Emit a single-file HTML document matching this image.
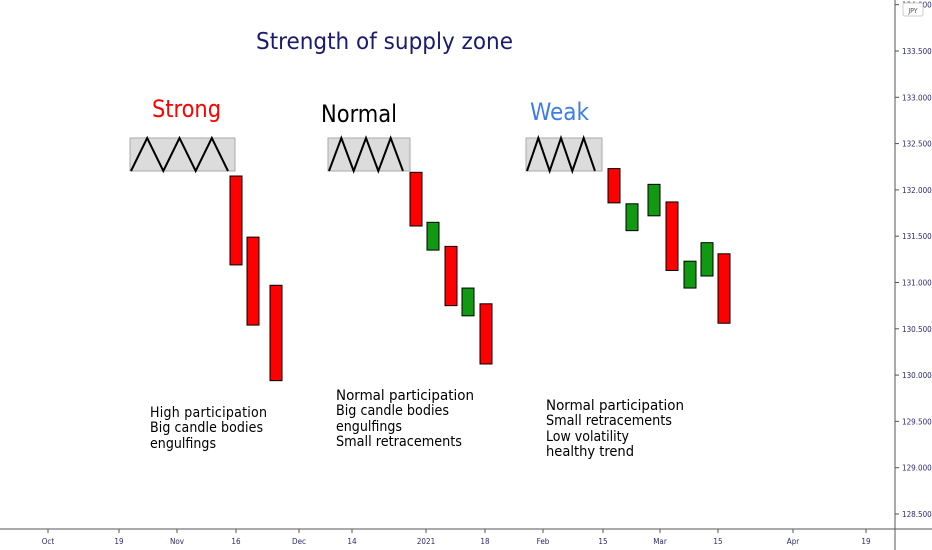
<!DOCTYPE html>
<html><head><meta charset="utf-8"><style>
body{margin:0;background:#fff;}
svg{display:block;font-family:"DejaVu Sans Condensed","DejaVu Sans","Liberation Sans",sans-serif;font-stretch:condensed;}
</style></head><body>
<svg id="c" width="932" height="550">
<text x="256" y="49" font-size="23" fill="#1a1a6e" textLength="257" lengthAdjust="spacingAndGlyphs">Strength of supply zone</text>
<text x="152" y="117" font-size="24" fill="#ff0000" textLength="69" lengthAdjust="spacingAndGlyphs">Strong</text>
<text x="321" y="122" font-size="24" fill="#000" textLength="76" lengthAdjust="spacingAndGlyphs">Normal</text>
<text x="530" y="120" font-size="24" fill="#3d7ee8" textLength="59" lengthAdjust="spacingAndGlyphs">Weak</text>
<g font-size="14" fill="#000" lengthAdjust="spacingAndGlyphs">
<text x="150" y="417" textLength="117">High participation</text><text x="150" y="432" textLength="113">Big candle bodies</text><text x="150" y="448" textLength="66">engulfings</text></g>
<g font-size="14" fill="#000">
<text x="336" y="400" textLength="138" lengthAdjust="spacingAndGlyphs">Normal  participation</text><text x="336" y="415" textLength="113" lengthAdjust="spacingAndGlyphs">Big candle bodies</text><text x="336" y="431" textLength="66" lengthAdjust="spacingAndGlyphs">engulfings</text><text x="336" y="446" textLength="126" lengthAdjust="spacingAndGlyphs">Small retracements</text></g>
<g font-size="14" fill="#000">
<text x="546" y="410" textLength="138" lengthAdjust="spacingAndGlyphs">Normal  participation</text><text x="546" y="425" textLength="126" lengthAdjust="spacingAndGlyphs">Small retracements</text><text x="546" y="441" textLength="83" lengthAdjust="spacingAndGlyphs">Low volatility</text><text x="546" y="456" textLength="88" lengthAdjust="spacingAndGlyphs">healthy trend</text></g>
<g id="zones"></g><g id="candles"></g>
<line x1="895" y1="0" x2="895" y2="550" stroke="#555"/>
<line x1="0" y1="529" x2="932" y2="529" stroke="#555"/>
<g id="yaxis"></g><g id="xaxis"></g>
<rect x="903" y="3" width="20" height="13" fill="#fff" stroke="#ccc" rx="2"/>
<text x="913" y="13" font-size="7" fill="#555" text-anchor="middle">JPY</text>
</svg>
<script>
const priceTicks=[128.5,129,129.5,130,130.5,131,131.5,132,132.5,133,133.5,134];
const dateLabels=["Oct","19","Nov","16","Dec","14","2021","18","Feb","15","Mar","15","Apr","19"];
const datePos=[48,119,177,236,299,352,426,485,543,603,660,718,793,866];
const candleOpen=[132.15,131.49,130.97, 132.19,131.35,131.39,130.64,130.77, 132.23,131.56,131.72,131.87,130.94,131.07,131.31];
const candleClose=[131.19,130.54,129.94, 131.61,131.65,130.75,130.94,130.12, 131.86,131.85,132.06,131.13,131.23,131.43,130.56];
const candleX=[230,247,270, 410,427,445,462,480, 608,626,648,666,684,701,718];
const NS="http://www.w3.org/2000/svg";
const y=p=>51+(133.5-p)*92.6;
function mk(t,a,parent){const e=document.createElementNS(NS,t);for(const k in a)e.setAttribute(k,a[k]);document.getElementById(parent).appendChild(e);return e;}
priceTicks.forEach(p=>{
 const l=mk('line',{x1:895,x2:899,y1:y(p),y2:y(p),stroke:'#555'},'yaxis');
 
 
 const t=mk('text',{x:902,y:y(p)+3,'font-size':8,fill:'#2a2a6a'},'yaxis');t.textContent=p.toFixed(3);
 
 
});
dateLabels.forEach((d,i)=>{
 const l=mk('line',{x1:datePos[i],x2:datePos[i],y1:529,y2:533,stroke:'#555'},'xaxis');
 
 
 const t=mk('text',{x:datePos[i],y:544,'font-size':8,fill:'#2a2a6a','text-anchor':'middle'},'xaxis');t.textContent=d;
 
 
});
[[130,235],[328,410],[526,602]].forEach(([a,b])=>{
 const r=mk('rect',{x:a,y:138,width:b-a,height:33,fill:'#dcdcdc',stroke:'#aaa'},'zones');
 
 
 const w=(b-a-8)/3;let pts=[];
 for(let i=0;i<3;i++){pts.push((a+1+i*w)+',171',(a+1+i*w+w/2)+',138');}
 pts.push((a+1+3*w)+',171');
 const pl=mk('polyline',{points:pts.join(' '),fill:'none',stroke:'#000','stroke-width':2},'zones');
 
 
});
candleOpen.forEach((o,i)=>{
 const c=candleClose[i],top=y(Math.max(o,c)),bot=y(Math.min(o,c));
 const r=mk('rect',{x:candleX[i],y:top,width:12,height:bot-top,fill:c>o?'#119911':'#ff0000',stroke:'#000','stroke-width':1},'candles');
 
 
});
</script>
</body></html>
